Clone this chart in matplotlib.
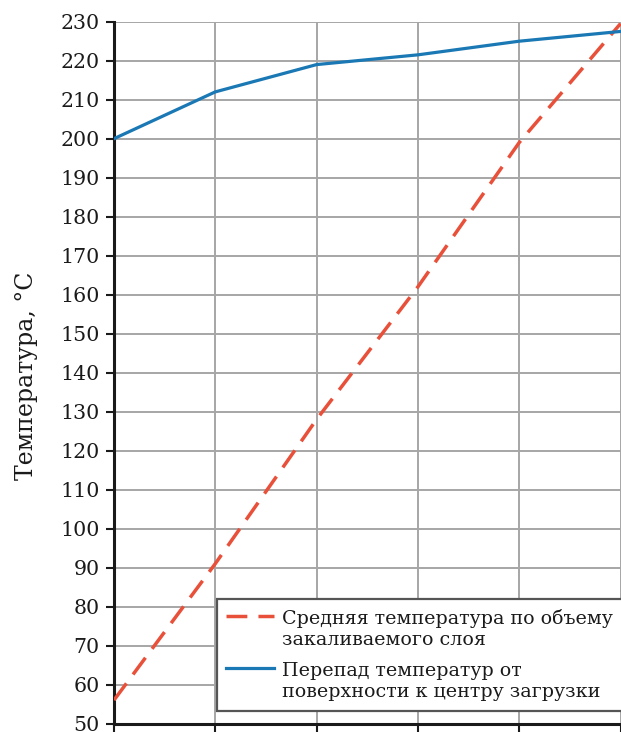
import matplotlib
matplotlib.use("Agg")
import matplotlib.pyplot as plt
from matplotlib.legend_handler import HandlerLine2D
import numpy as np

# Heating stages (positions along the horizontal axis)
stages = [0, 1, 2, 3, 4, 5]
# Average temperature over the hardened layer volume, °C
avg_temp = [56, 91, 128, 162, 199, 229.5]
# Temperature difference from surface to load centre, °C
surface_to_centre = [200, 212, 219, 221.5, 225, 227.5]

y_ticks = list(range(50, 231, 10))

label_avg = "Средняя температура по объему\nзакаливаемого слоя"
label_drop = "Перепад температур от\nповерхности к центру загрузки"
y_label = "Температура, °C"

W, H = 621, 732
fig = plt.figure(figsize=(W / 100, H / 100), dpi=100)
plt.rcParams["font.family"] = ["DejaVu Serif"]

left, right = 114 / W, 620.5 / W
bottom, top = (H - 723.5) / H, (H - 21.7) / H
ax = fig.add_axes([left, bottom, right - left, top - bottom])

red = "#e8503a"
blue = "#1a78b4"
ink = "#1a1a1a"

ax.plot(stages, avg_temp, color=red, lw=2.5, dashes=(6, 3.2),
        solid_capstyle="butt", label=label_avg, zorder=3)
ax.plot(stages, surface_to_centre, color=blue, lw=2.3,
        label=label_drop, zorder=3)

ax.set_xlim(0, 5)
ax.set_ylim(50, 230)
ax.set_yticks(y_ticks)
ax.set_xticks(stages)
ax.set_xticklabels([])

ax.grid(True, color="#a6a6a6", lw=1.4)
ax.set_axisbelow(True)
for s in ("top", "right"):
    ax.spines[s].set_visible(False)
for s in ("left", "bottom"):
    ax.spines[s].set_color(ink)
    ax.spines[s].set_linewidth(2.2)

ax.tick_params(axis="y", length=5.5, width=1.5, color=ink,
               labelsize=14.8, pad=5, labelcolor=ink)
ax.tick_params(axis="x", length=8, width=1.5, color=ink)

fig.text(27 / W, 1 - 376 / H, y_label, rotation=90, ha="center",
         va="center", fontsize=17, color=ink)


class FirstLineHandler(HandlerLine2D):
    """Place the legend sample beside the first line of a two-line label."""

    def create_artists(self, legend, orig_handle, xdescent, ydescent,
                       width, height, fontsize, trans):
        artists = super().create_artists(legend, orig_handle, xdescent,
                                         ydescent, width, height, fontsize,
                                         trans)
        for a in artists:
            a.set_ydata(np.asarray(a.get_ydata()) + 0.72 * fontsize)
        return artists


handles, labels = ax.get_legend_handles_labels()
leg = ax.legend(handles, labels, loc="lower left",
                bbox_to_anchor=(216.5 / W, 1 - 710.7 / H),
                bbox_transform=fig.transFigure,
                fontsize=13.7, frameon=True, fancybox=False,
                edgecolor="#555555", framealpha=1, borderpad=0.5,
                handlelength=2.5, handletextpad=0.45, labelspacing=0.65,
                borderaxespad=0,
                handler_map={plt.Line2D: FirstLineHandler()})
leg.get_frame().set_linewidth(1.6)
for t in leg.get_texts():
    t.set_color(ink)
    t.set_linespacing(1.25)

fig.savefig("out.png", dpi=100)
